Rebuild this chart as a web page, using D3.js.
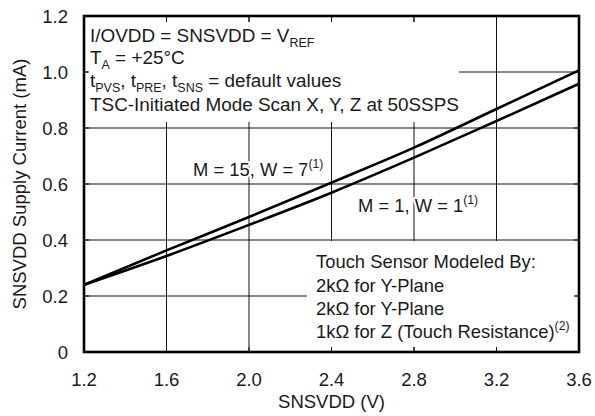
<!DOCTYPE html>
<html><head><meta charset="utf-8">
<script src="https://cdn.jsdelivr.net/npm/d3@7"></script>
<style>
body{margin:0;background:#fff;}
text{font-family:"Liberation Sans",Arial,Helvetica,sans-serif;fill:#1a1a1a;}
</style></head>
<body><svg id="c" width="595" height="416"></svg>
<script>
const xValues = [1.2, 1.6, 2.0, 2.4, 2.8, 3.2, 3.6];
const seriesM15W7 = [0.24, 0.363, 0.482, 0.605, 0.730, 0.868, 1.006];
const seriesM1W1 = [0.24, 0.343, 0.454, 0.569, 0.694, 0.825, 0.958];
const xTicks = [1.2, 1.6, 2.0, 2.4, 2.8, 3.2, 3.6];
const xTickLabels = ["1.2", "1.6", "2.0", "2.4", "2.8", "3.2", "3.6"];
const yTicks = [0, 0.2, 0.4, 0.6, 0.8, 1.0, 1.2];
const yTickLabels = ["0", "0.2", "0.4", "0.6", "0.8", "1.0", "1.2"];

const L = 84, R = 579, T = 16, B = 352;
const FS = 18.4, TOPFS = 18.9, TFS = 18.5;
const svg = d3.select("#c");
const x = d3.scaleLinear().domain([1.2, 3.6]).range([L, R]);
const y = d3.scaleLinear().domain([0, 1.2]).range([B, T]);

// grid
const g = svg.append("g").attr("stroke", "#111").attr("stroke-width", 1);
xTicks.slice(1, -1).forEach(v => g.append("line").attr("x1", x(v)).attr("x2", x(v)).attr("y1", T).attr("y2", B));
yTicks.slice(1, -1).forEach(v => g.append("line").attr("y1", y(v)).attr("y2", y(v)).attr("x1", L).attr("x2", R));

// white boxes behind annotations
svg.append("rect").attr("x", 88).attr("y", 22).attr("width", 459 - 88).attr("height", 100).attr("fill", "#fff");
svg.append("rect").attr("x", 307).attr("y", 241).attr("width", 575 - 307).attr("height", 106).attr("fill", "#fff");

// inward ticks
const tk = svg.append("g").attr("stroke", "#111").attr("stroke-width", 1);
xTicks.slice(1, -1).forEach(v => {
  tk.append("line").attr("x1", x(v)).attr("x2", x(v)).attr("y1", T).attr("y2", T + 6);
  tk.append("line").attr("x1", x(v)).attr("x2", x(v)).attr("y1", B).attr("y2", B - 5);
});
yTicks.slice(1, -1).forEach(v => {
  tk.append("line").attr("y1", y(v)).attr("y2", y(v)).attr("x1", L).attr("x2", L + 5);
  tk.append("line").attr("y1", y(v)).attr("y2", y(v)).attr("x1", R).attr("x2", R - 5);
});

// curves
const line = d3.line().x((d, i) => x(xValues[i])).y(d => y(d)).curve(d3.curveMonotoneX);
[seriesM15W7, seriesM1W1].forEach(s => {
  svg.append("path").datum(s).attr("d", line).attr("fill", "none").attr("stroke", "#000").attr("stroke-width", 2.6);
});

// frame
svg.append("rect").attr("x", L).attr("y", T).attr("width", R - L).attr("height", B - T)
  .attr("fill", "none").attr("stroke", "#000").attr("stroke-width", 2.6);

// tick labels
xTicks.forEach((v, i) => svg.append("text").attr("x", x(v)).attr("y", 386).attr("text-anchor", "middle")
  .attr("font-size", TFS).text(xTickLabels[i]));
yTicks.forEach((v, i) => svg.append("text").attr("x", 68).attr("y", y(v)).attr("dy", "0.36em").attr("text-anchor", "end")
  .attr("font-size", TFS).text(yTickLabels[i]));

// axis titles
svg.append("text").attr("x", (L + R) / 2).attr("y", 408).attr("text-anchor", "middle").attr("font-size", TFS).text("SNSVDD (V)");
svg.append("text").attr("transform", `translate(26,${(T + B) / 2}) rotate(-90)`).attr("text-anchor", "middle")
  .attr("font-size", TFS).text("SNSVDD Supply Current (mA)");

// rich text helper: parts = [[text, type]] type: n normal, s sub, p sup
function rich(xp, yp, parts, size, halo) {
  const t = svg.append("text").attr("x", xp).attr("y", yp).attr("font-size", size);
  if (halo) t.attr("stroke", "#fff").attr("stroke-width", 4).attr("paint-order", "stroke").attr("stroke-linejoin", "round");
  let shift = 0;
  parts.forEach(([s, k]) => {
    const target = k === "s" ? 4.5 : (k === "p" ? -8 : 0);
    t.append("tspan").attr("dy", target - shift).attr("font-size", k === "n" ? size : size * 0.66).text(s);
    shift = target;
  });
  return t;
}

rich(90, 42, [["I/OVDD = SNSVDD = V", "n"], ["REF", "s"]], TOPFS);
rich(90, 64, [["T", "n"], ["A", "s"], [" = +25°C", "n"]], TOPFS);
rich(90, 87, [["t", "n"], ["PVS", "s"], [", t", "n"], ["PRE", "s"], [", t", "n"], ["SNS", "s"], [" = default values", "n"]], TOPFS);
rich(90, 111, [["TSC-Initiated Mode Scan X, Y, Z at 50SSPS", "n"]], TOPFS);

rich(193, 176, [["M = 15, W = 7", "n"], ["(1)", "p"]], FS, true);
rich(358, 212, [["M = 1, W = 1", "n"], ["(1)", "p"]], FS, true);

rich(316, 268, [["Touch Sensor Modeled By:", "n"]], FS);
rich(316, 292, [["2kΩ for Y-Plane", "n"]], FS);
rich(316, 315, [["2kΩ for Y-Plane", "n"]], FS);
rich(316, 338, [["1kΩ for Z (Touch Resistance)", "n"], ["(2)", "p"]], FS);
</script></body></html>
